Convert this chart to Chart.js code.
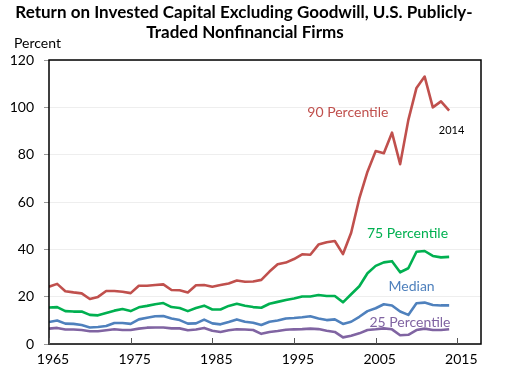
<!DOCTYPE html>
<html lang="en">
<head>
  <meta charset="UTF-8">
  <title>Return on Invested Capital Excluding Goodwill</title>
  <style>
    html, body { margin: 0; padding: 0; background: #fff; }
    #wrap { width: 531px; height: 378px; }
  </style>
</head>
<body>
  <div id="wrap"><canvas id="roic" width="531" height="378"></canvas></div>

  <script src="https://cdn.jsdelivr.net/npm/chart.js"></script>
  <script>
    // data
    const years = [1965, 1966, 1967, 1968, 1969, 1970, 1971, 1972, 1973, 1974,
                   1975, 1976, 1977, 1978, 1979, 1980, 1981, 1982, 1983, 1984,
                   1985, 1986, 1987, 1988, 1989, 1990, 1991, 1992, 1993, 1994,
                   1995, 1996, 1997, 1998, 1999, 2000, 2001, 2002, 2003, 2004,
                   2005, 2006, 2007, 2008, 2009, 2010, 2011, 2012, 2013, 2014];
    const p90 = [24.2, 25.4, 22.3, 21.8, 21.4, 19.0, 19.9, 22.4, 22.4, 22.1,
                 21.5, 24.6, 24.6, 24.9, 25.2, 22.8, 22.7, 21.8, 24.8, 24.9,
                 24.2, 24.9, 25.6, 26.8, 26.3, 26.4, 27.1, 30.6, 33.7, 34.4,
                 35.9, 37.9, 37.7, 42.0, 43.0, 43.5, 38.0, 47.0, 61.5, 72.8,
                 81.5, 80.6, 89.3, 76.0, 94.6, 108.2, 113.0, 100.0, 102.5, 98.6];
    const p75 = [15.4, 15.6, 13.9, 13.7, 13.7, 12.3, 12.1, 13.1, 14.1, 14.8,
                 13.9, 15.5, 16.1, 16.8, 17.3, 15.6, 15.2, 13.9, 15.2, 16.2,
                 14.6, 14.6, 16.1, 17.0, 16.2, 15.6, 15.3, 17.0, 17.8, 18.6,
                 19.2, 20.1, 20.1, 20.7, 20.3, 20.3, 17.6, 21.0, 24.4, 29.9,
                 33.0, 34.5, 35.0, 30.3, 32.0, 39.0, 39.3, 37.2, 36.6, 36.8];
    const median = [9.3, 9.9, 8.6, 8.5, 8.0, 7.0, 7.2, 7.6, 8.9, 8.9,
                    8.5, 10.4, 11.1, 11.7, 11.8, 10.8, 10.1, 8.6, 8.7, 10.3,
                    8.7, 8.3, 9.3, 10.4, 9.4, 9.0, 8.0, 9.4, 9.9, 10.8,
                    11.0, 11.3, 11.7, 10.8, 10.1, 10.4, 8.5, 9.4, 11.5, 13.9,
                    15.1, 16.8, 16.3, 13.7, 12.3, 17.2, 17.5, 16.5, 16.3, 16.3];
    const p25 = [6.5, 6.8, 6.1, 6.1, 5.9, 5.4, 5.4, 5.8, 6.2, 5.9,
                 5.9, 6.5, 6.9, 7.0, 7.0, 6.6, 6.6, 5.8, 6.1, 6.8,
                 5.6, 5.1, 5.8, 6.2, 6.1, 5.9, 4.3, 5.1, 5.5, 6.0,
                 6.2, 6.3, 6.5, 6.3, 5.6, 5.1, 2.8, 3.5, 4.5, 5.9,
                 6.2, 6.6, 6.2, 3.7, 3.9, 5.9, 6.5, 5.9, 5.9, 6.2];
    const xTicks = [1965, 1975, 1985, 1995, 2005, 2015];

    const seriesNames = ['90 Percentile', '75 Percentile', 'Median', '25 Percentile'];
    const seriesColors = ['#C0504D', '#00B050', '#4F81BD', '#8064A2'];
    // where the in-chart labels sit, in data units (year, percent)
    const labelYears = [2001.6, 2008.9, 2009.4, 2009.2];
    const labelValues = [98.0, 46.5, 24.1, 9.3];

    const FONT = 'Lato, "Open Sans", sans-serif';

    const toPoints = vals => vals.map((v, i) => ({ x: years[i], y: v }));

    // title, axis caption, series labels and the plot box
    const extras = {
      id: 'extras',
      afterDraw(chart) {
        const { ctx, chartArea: a, scales } = chart;
        ctx.save();
        ctx.strokeStyle = '#000';
        ctx.lineWidth = 1.5;
        ctx.strokeRect(a.left, a.top, a.right - a.left, a.bottom - a.top);

        // inward tick marks on the year axis
        ctx.strokeStyle = '#555';
        ctx.lineWidth = 1;
        xTicks.forEach(t => {
          const px = Math.round(scales.x.getPixelForValue(t)) + 0.5;
          ctx.beginPath();
          ctx.moveTo(px, a.bottom);
          ctx.lineTo(px, a.bottom - 6);
          ctx.stroke();
        });

        ctx.fillStyle = '#000';
        ctx.textAlign = 'center';
        ctx.textBaseline = 'middle';
        ctx.font = 'bold 17px ' + FONT;
        ctx.fillText('Return on Invested Capital Excluding Goodwill, U.S. Publicly-', 244, 13);
        ctx.fillText('Traded Nonfinancial Firms', 245, 33);

        ctx.textAlign = 'left';
        ctx.font = '14px ' + FONT;
        ctx.fillText('Percent', 14, 43);

        ctx.textAlign = 'center';
        seriesNames.forEach((name, i) => {
          ctx.fillStyle = seriesColors[i];
          ctx.fillText(name, scales.x.getPixelForValue(labelYears[i]),
                       scales.y.getPixelForValue(labelValues[i]));
        });
        ctx.fillStyle = '#000';
        ctx.font = '11px ' + FONT;
        ctx.fillText('2014', scales.x.getPixelForValue(2014.3), scales.y.getPixelForValue(90.4));
        ctx.restore();
      }
    };

    const ctx = document.getElementById('roic').getContext('2d');
    new Chart(ctx, {
      type: 'line',
      data: {
        datasets: seriesNames.map((name, i) => ({
          label: name,
          data: toPoints([p90, p75, median, p25][i]),
          borderColor: seriesColors[i],
          borderWidth: 2.6,
          pointRadius: 0,
          tension: 0,
          borderJoinStyle: 'round',
          fill: false
        }))
      },
      options: {
        responsive: false,
        animation: false,
        layout: { padding: { top: 60, right: 50, bottom: 0, left: 0 } },
        plugins: {
          legend: { display: false },
          tooltip: { enabled: false }
        },
        scales: {
          x: {
            type: 'linear',
            min: 1965,
            max: 2017.9,
            afterFit: s => { s.height = 34; },
            afterBuildTicks: s => { s.ticks = xTicks.map(v => ({ value: v })); },
            grid: { drawOnChartArea: false, drawTicks: false },
            border: { display: false },
            ticks: {
              color: '#000',
              font: { family: FONT, size: 14 },
              padding: 7,
              labelOffset: 4,
              maxRotation: 0,
              callback: v => String(v)
            }
          },
          y: {
            min: 0,
            max: 120,
            afterFit: s => { s.width = 49; },
            grid: { color: '#eeeeee', lineWidth: 1, tickLength: 5, tickColor: '#999' },
            border: { display: false },
            ticks: {
              stepSize: 20,
              color: '#000',
              font: { family: FONT, size: 14 },
              padding: 10
            }
          }
        }
      },
      plugins: [extras]
    });
  </script>
</body>
</html>
